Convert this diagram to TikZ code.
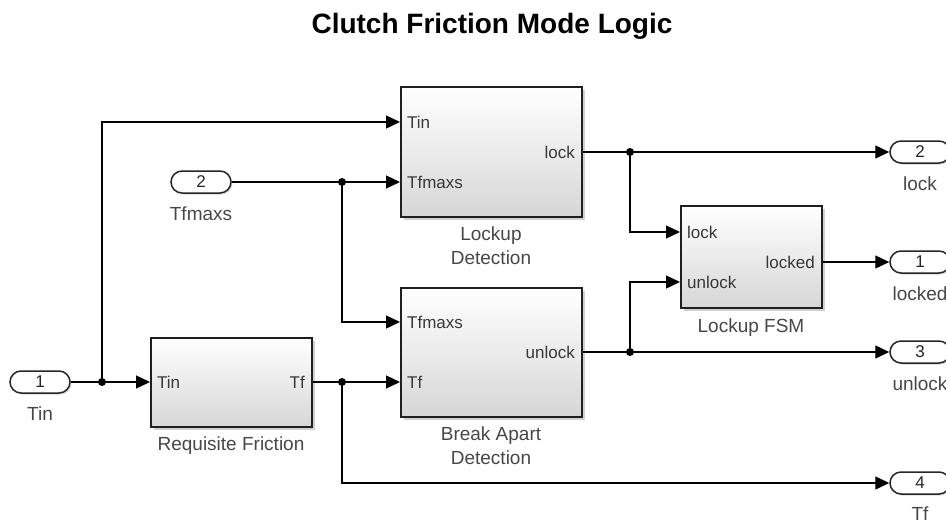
\documentclass[tikz,border=0pt]{standalone}
\usepackage{fontspec}
\setmainfont{Liberation Sans}
\usetikzlibrary{arrows.meta,shadows}
\begin{document}
\begin{tikzpicture}[x=1pt,y=-1pt,
  wire/.style={line width=1.4pt, draw=black},
  sig/.style={wire, -{Triangle[length=14pt,width=13pt]}},
  blk/.style={draw=black!88, line width=2pt, top color=white, bottom color=black!16,
    drop shadow={shadow xshift=3pt, shadow yshift=-3pt, opacity=0.3, fill=black!60}},
  portovl/.style={draw=black!85, line width=1.5pt, rounded corners=11pt, fill=white,
    minimum width=60pt, minimum height=22pt, inner sep=0pt,
    font=\fontsize{17}{20}\selectfont, text=black!85,
    drop shadow={shadow xshift=1.5pt, shadow yshift=-1.5pt, opacity=0.25, fill=black!60}},
  inlbl/.style={font=\fontsize{17}{20}\selectfont, text=black!78, inner sep=0pt},
  outlbl/.style={font=\fontsize{19}{22}\selectfont, text=black!72, inner sep=0pt},
  dot/.style={fill=black}
]
\useasboundingbox (0,0) rectangle (946,523);
\clip (0,0) rectangle (946,523);

% title
\node[anchor=base, font=\bfseries\fontsize{28}{32}\selectfont, inner sep=0pt] (title) at (492,33) {Clutch Friction Mode Logic};

% blocks
\node[blk, minimum width=181pt, minimum height=130pt, inner sep=0pt] (ld) at (491.5,152) {};
\node[blk, minimum width=181pt, minimum height=129pt, inner sep=0pt] (ba) at (491.5,352.5) {};
\node[blk, minimum width=161pt, minimum height=89pt, inner sep=0pt] (rf) at (231.5,382.5) {};
\node[blk, minimum width=141pt, minimum height=102pt, inner sep=0pt] (fsm) at (751.5,257) {};

% port coordinates
\coordinate (ld-tin) at (400,122);
\coordinate (ld-tfm) at (400,182);
\coordinate (ld-lock) at (583,152);
\coordinate (ba-tfm) at (400,322);
\coordinate (ba-tf) at (400,382);
\coordinate (ba-unlock) at (583,352);
\coordinate (rf-tin) at (150,382);
\coordinate (rf-tf) at (313,382);
\coordinate (fsm-lock) at (680,232);
\coordinate (fsm-unlock) at (680,282);
\coordinate (fsm-locked) at (823,262);

% port labels inside blocks
\node[inlbl, anchor=base west] (t1) at (407,128) {Tin};
\node[inlbl, anchor=base west] (t2) at (407,188) {Tfmaxs};
\node[inlbl, anchor=base east] (t3) at (575,158) {lock};
\node[inlbl, anchor=base west] (t4) at (407,328) {Tfmaxs};
\node[inlbl, anchor=base west] (t5) at (407,388) {Tf};
\node[inlbl, anchor=base east] (t6) at (575,358) {unlock};
\node[inlbl, anchor=base west] (t7) at (157,388) {Tin};
\node[inlbl, anchor=base east] (t8) at (305,388) {Tf};
\node[inlbl, anchor=base west] (t9) at (687,238) {lock};
\node[inlbl, anchor=base west] (t10) at (687,288) {unlock};
\node[inlbl, anchor=base east] (t11) at (815,268) {locked};

% block names
\node[outlbl, anchor=base] (n1) at (491,240) {Lockup};
\node[outlbl, anchor=base] (n2) at (491,264) {Detection};
\node[outlbl, anchor=base] (n3) at (491,440) {Break Apart};
\node[outlbl, anchor=base] (n4) at (491,464) {Detection};
\node[outlbl, anchor=base] (n5) at (231,450) {Requisite Friction};
\node[outlbl, anchor=base] (n6) at (751,332) {Lockup FSM};

% inports
\node[portovl] (in1) at (40,382) {1};
\node[outlbl, anchor=base] (in1l) at (40,420) {Tin};
\node[portovl] (in2) at (201,182) {2};
\node[outlbl, anchor=base] (in2l) at (201,220) {Tfmaxs};

% outports
\node[portovl] (op2) at (920,152) {2};
\node[outlbl, anchor=base] (op2l) at (920,190) {lock};
\node[portovl] (op1) at (920,262) {1};
\node[outlbl, anchor=base] (op1l) at (920,300) {locked};
\node[portovl] (op3) at (920,352) {3};
\node[outlbl, anchor=base] (op3l) at (920,390) {unlock};
\node[portovl] (op4) at (920,483) {4};
\node[outlbl, anchor=base] (op4l) at (920,520) {Tf};

% junctions
\coordinate (j1) at (102,382);
\coordinate (j2) at (342,382);
\coordinate (j3) at (342,182);
\coordinate (j4) at (630,152);
\coordinate (j5) at (630,352);

% wires
\draw[sig] (in1.east) -- (rf-tin);
\draw[sig] (j1) |- (ld-tin);
\draw[sig] (in2.east) -- (ld-tfm);
\draw[sig] (j3) |- (ba-tfm);
\draw[sig] (rf-tf) -- (ba-tf);
\draw[sig] (j2) |- (op4.west);
\draw[sig] (ld-lock) -- (op2.west);
\draw[sig] (j4) |- (fsm-lock);
\draw[sig] (ba-unlock) -- (op3.west);
\draw[sig] (j5) |- (fsm-unlock);
\draw[sig] (fsm-locked) -- (op1.west);

\foreach \j in {j1,j2,j3,j4,j5} \fill[dot] (\j) circle (4pt);
\end{tikzpicture}
\end{document}
